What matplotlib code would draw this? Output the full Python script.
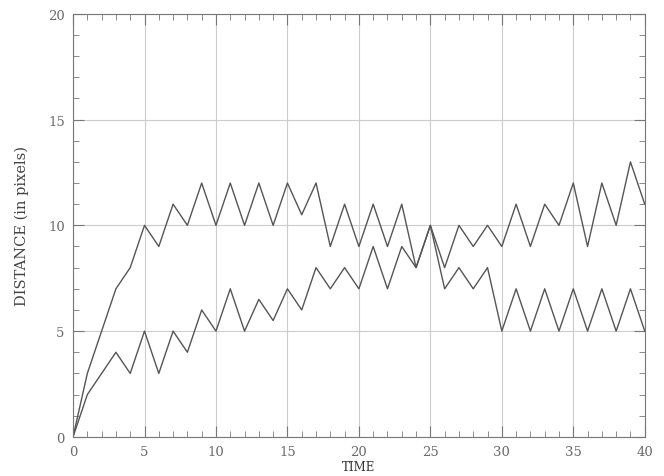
import matplotlib
matplotlib.use('Agg')
import matplotlib.pyplot as plt
from matplotlib.ticker import MultipleLocator

plt.rcParams['font.family'] = ['DejaVu Serif']

# 时间 0-40
time = list(range(41))
# 上面那条线
dist_upper = [0, 3, 5, 7, 8, 10, 9, 11, 10, 12, 10, 12, 10, 12, 10, 12, 10.5, 12,
              9, 11, 9, 11, 9, 11, 8, 10, 8, 10, 9, 10, 9, 11, 9, 11, 10, 12,
              9, 12, 10, 13, 11]
# 下面那条线
dist_lower = [0, 2, 3, 4, 3, 5, 3, 5, 4, 6, 5, 7, 5, 6.5, 5.5, 7, 6, 8,
              7, 8, 7, 9, 7, 9, 8, 10, 7, 8, 7, 8, 5, 7, 5, 7, 5, 7,
              5, 7, 5, 7, 5]

fig = plt.figure(figsize=(6.64, 4.77), dpi=100)
ax = fig.add_axes([0.110, 0.082, 0.861, 0.887])

ax.plot(time, dist_upper, color='#555555', linewidth=1.0)
ax.plot(time, dist_lower, color='#555555', linewidth=1.0)

ax.set_xlim(0, 40)
ax.set_ylim(0, 20)
ax.xaxis.set_major_locator(MultipleLocator(5))
ax.xaxis.set_minor_locator(MultipleLocator(1))
ax.yaxis.set_major_locator(MultipleLocator(5))
ax.yaxis.set_minor_locator(MultipleLocator(1))
ax.tick_params(which='both', direction='in', top=True, right=True,
               color='#777777', labelcolor='#6a6a6a', labelsize=9.5)
ax.tick_params(which='major', length=8, pad=6)
ax.tick_params(which='minor', length=4)
ax.grid(True, which='major', color='#cccccc', linewidth=0.8)
for s in ax.spines.values():
    s.set_color('#777777')

ax.set_xlabel('TIME', fontsize=8.5, color='#333333', labelpad=1)
ax.set_ylabel('DISTANCE (in pixels)', fontsize=10.5, color='#444444')
ax.yaxis.set_label_coords(-0.077, 0.5)

fig.savefig('out.png', dpi=100, facecolor='white')
plt.close(fig)
